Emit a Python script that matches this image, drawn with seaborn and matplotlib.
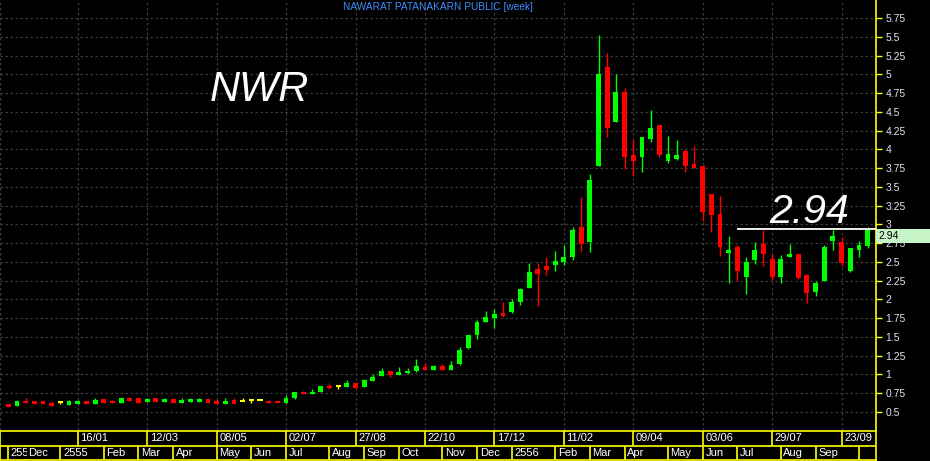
import numpy as np
import pandas as pd
import matplotlib
matplotlib.use("Agg")
import matplotlib.pyplot as plt
import matplotlib.transforms as mtransforms
from matplotlib.patches import Rectangle
import seaborn as sns

# weekly candles (100 weeks, first one = week of 21/11/2554)
open_ = [0.61, 0.58, 0.65, 0.65, 0.64, 0.62, 0.63, 0.59, 0.61, 0.65,
         0.61, 0.67, 0.65, 0.62, 0.69, 0.69, 0.63, 0.69, 0.63, 0.67,
         0.62, 0.63, 0.63, 0.67, 0.65, 0.61, 0.66, 0.65, 0.66, 0.66,
         0.65, 0.65, 0.62, 0.69, 0.77, 0.74, 0.77, 0.85, 0.85, 0.83,
         0.89, 0.83, 0.91, 0.98, 1.04, 0.99, 1.02, 1.04, 1.10, 1.06,
         1.11, 1.06, 1.14, 1.35, 1.53, 1.70, 1.75, 1.82, 1.83, 1.97,
         2.15, 2.41, 2.45, 2.46, 2.50, 2.57, 2.97, 2.77, 3.78, 5.10,
         4.36, 4.76, 3.93, 3.90, 4.14, 4.32, 3.85, 3.87, 3.98, 3.80,
         3.78, 3.41, 3.14, 2.62, 2.70, 2.30, 2.53, 2.74, 2.54, 2.30,
         2.56, 2.60, 2.33, 2.10, 2.25, 2.78, 2.76, 2.38, 2.66, 2.71]
high = [0.61, 0.66, 0.68, 0.65, 0.65, 0.65, 0.63, 0.66, 0.66, 0.65,
        0.69, 0.67, 0.66, 0.69, 0.70, 0.69, 0.69, 0.69, 0.69, 0.69,
        0.69, 0.69, 0.69, 0.69, 0.67, 0.69, 0.69, 0.69, 0.66, 0.66,
        0.66, 0.65, 0.73, 0.77, 0.78, 0.81, 0.85, 0.88, 0.85, 0.93,
        0.89, 0.94, 1.00, 1.08, 1.04, 1.10, 1.09, 1.21, 1.15, 1.13,
        1.14, 1.18, 1.37, 1.53, 1.73, 1.85, 1.87, 1.97, 2.00, 2.15,
        2.49, 2.49, 2.57, 2.65, 2.73, 2.97, 3.37, 3.67, 5.52, 5.28,
        5.00, 4.82, 4.12, 4.16, 4.52, 4.32, 4.18, 4.12, 4.00, 4.04,
        3.78, 3.41, 3.38, 2.85, 2.73, 2.57, 2.77, 2.93, 2.60, 2.59,
        2.74, 2.60, 2.34, 2.25, 2.72, 2.93, 2.83, 2.68, 2.78, 2.97]
low = [0.57, 0.58, 0.62, 0.61, 0.60, 0.58, 0.61, 0.59, 0.61, 0.61,
       0.61, 0.62, 0.62, 0.62, 0.65, 0.62, 0.63, 0.63, 0.63, 0.62,
       0.62, 0.63, 0.63, 0.62, 0.61, 0.61, 0.61, 0.65, 0.62, 0.66,
       0.62, 0.62, 0.62, 0.67, 0.74, 0.74, 0.77, 0.81, 0.81, 0.83,
       0.81, 0.83, 0.91, 0.98, 0.97, 0.99, 1.00, 1.03, 1.06, 1.06,
       1.06, 1.06, 1.13, 1.34, 1.47, 1.70, 1.62, 1.77, 1.82, 1.93,
       2.15, 1.91, 2.33, 2.38, 2.46, 2.53, 2.63, 2.63, 3.78, 4.16,
       4.36, 3.74, 3.65, 3.70, 4.10, 3.90, 3.82, 3.86, 3.70, 3.75,
       3.05, 2.90, 2.58, 2.22, 2.25, 2.07, 2.47, 2.45, 2.26, 2.22,
       2.56, 2.27, 1.95, 2.05, 2.25, 2.66, 2.45, 2.37, 2.57, 2.69]
close = [0.57, 0.65, 0.62, 0.61, 0.60, 0.58, 0.63, 0.65, 0.65, 0.61,
         0.66, 0.62, 0.62, 0.69, 0.65, 0.62, 0.67, 0.63, 0.67, 0.62,
         0.66, 0.67, 0.67, 0.62, 0.61, 0.65, 0.61, 0.65, 0.66, 0.66,
         0.62, 0.62, 0.69, 0.77, 0.74, 0.77, 0.85, 0.82, 0.85, 0.88,
         0.82, 0.93, 0.97, 1.05, 0.99, 1.03, 1.04, 1.11, 1.06, 1.11,
         1.06, 1.13, 1.33, 1.53, 1.70, 1.77, 1.81, 1.78, 1.97, 2.14,
         2.37, 2.34, 2.39, 2.51, 2.57, 2.92, 2.74, 3.59, 5.00, 4.28,
         4.76, 3.90, 3.85, 4.16, 4.28, 3.92, 3.94, 3.93, 3.78, 3.75,
         3.17, 3.13, 2.70, 2.66, 2.38, 2.50, 2.66, 2.61, 2.30, 2.54,
         2.60, 2.29, 2.09, 2.22, 2.70, 2.85, 2.48, 2.68, 2.73, 2.94]

# date strip labels
top_labels = ["16/01", "12/03", "08/05", "02/07", "27/08", "22/10",
              "17/12", "11/02", "09/04", "03/06", "29/07", "23/09"]
top_label_weeks = [8, 16, 24, 32, 40, 48, 56, 64, 72, 80, 88, 96]
month_labels = ["2554", "Dec", "2555", "Feb", "Mar", "Apr", "May", "Jun",
                "Jul", "Aug", "Sep", "Oct", "Nov", "Dec", "2556", "Feb",
                "Mar", "Apr", "May", "Jun", "Jul", "Aug", "Sep", ""]
month_start_weeks = [0, 2, 6, 11, 15, 19, 24, 28, 32, 37, 41, 45, 50, 54,
                     58, 63, 67, 71, 76, 80, 84, 89, 93, 98]
price_ticks = [0.5, 0.75, 1, 1.25, 1.5, 1.75, 2, 2.25, 2.5, 2.75, 3,
               3.25, 3.5, 3.75, 4, 4.25, 4.5, 4.75, 5, 5.25, 5.5, 5.75]

df = pd.DataFrame({"week": np.arange(len(close)), "open": open_,
                   "high": high, "low": low, "close": close})
df["colour"] = np.where(df["close"] > df["open"], "#00ff00",
                        np.where(df["close"] < df["open"], "#ff0000", "#ffff00"))
df["bottom"] = df[["open", "close"]].min(axis=1)
df["body"] = (df["close"] - df["open"]).abs()

sns.set_theme(style="dark", rc={"axes.facecolor": "black",
                                "figure.facecolor": "black"})
plt.rcParams["font.family"] = ["Liberation Sans", "DejaVu Sans"]

W, H = 930, 461
fig = plt.figure(figsize=(W / 100, H / 100), dpi=100, facecolor="black")
ax = fig.add_axes([0, 31 / H, 875.7 / W, 430 / H])
ax.set_facecolor("black")

xmin, xmax = -0.956, 99.93
ax.set_xlim(xmin, xmax)
ax.set_ylim(0.260, 5.99)

grid = "#3a3a3a"
for wk in top_label_weeks:
    ax.axvline(wk, color=grid, lw=0.9, ls=(0, (2, 2)), zorder=0)
for p in price_ticks:
    ax.axhline(p, color=grid, lw=0.9, ls=(0, (2, 2)), zorder=0)
ax.axvline(xmin + 0.05, color=grid, lw=0.9, ls=(0, (2, 2)), zorder=0)

# wicks and bodies
ax.vlines(df["week"], df["low"], df["high"], colors=df["colour"], lw=1, zorder=2)
real = df[df["body"] > 0]
ax.bar(real["week"], real["body"], bottom=real["bottom"], width=0.56,
       color=real["colour"], linewidth=0, zorder=3)
doji = df[df["body"] == 0]
ax.hlines(doji["close"], doji["week"] - 0.3, doji["week"] + 0.3,
          colors=doji["colour"], lw=1.5, zorder=3)

# right price axis
ax.yaxis.tick_right()
ax.set_yticks(price_ticks)
ax.set_yticklabels([f"{p:g}" for p in price_ticks])
ax.tick_params(axis="y", colors="#ffff00", length=4, width=1, pad=3,
               labelcolor="#e4e4f0", labelsize=7.5, direction="out")
ax.set_xticks([])
for side in ["top", "left", "bottom"]:
    ax.spines[side].set_visible(False)
ax.spines["right"].set_color("#ffff00")
ax.spines["right"].set_linewidth(1.2)
ax.grid(False)

# last price marker
last = df["close"].iloc[-1]
ax.hlines(last, 84, xmax, colors="white", lw=1.3, zorder=4)
blend = mtransforms.blended_transform_factory(ax.transAxes, ax.transData)
ax.add_patch(Rectangle((1.0, last - 0.19), 0.063, 0.19, transform=blend,
                       facecolor="#c8f5c8", edgecolor="none", clip_on=False, zorder=5))
ax.text(1.003, last - 0.095, f"{last:.2f}", transform=blend, ha="left",
        va="center", fontsize=7.5, color="black", zorder=6)

ax.text(92.2, 3.014, f"{last:.2f}", ha="center", va="baseline",
        fontsize=29.5, fontstyle="italic", color="white")
ax.text(28.94, 4.648, "NWR", ha="center", va="baseline",
        fontsize=30, fontstyle="italic", color="white")

fig.text(437.5 / W, 1 - 7.5 / H, "NAWARAT PATANAKARN PUBLIC [week]",
         ha="center", va="center", fontsize=7.3, color="#3d8eff")

# date strip at the bottom
ax2 = fig.add_axes([0, 1 / H, 875.7 / W, 29 / H])
ax2.set_facecolor("black")
ax2.set_xlim(xmin, xmax)
ax2.set_ylim(0, 2)
ax2.set_xticks([])
ax2.set_yticks([])
ax2.grid(False)
for side in ax2.spines:
    ax2.spines[side].set_color("#ffff00")
    ax2.spines[side].set_linewidth(1.2)
ax2.axhline(1, color="#ffff00", lw=1.2)
ax2.vlines(top_label_weeks, 1, 2, colors="#ffff00", lw=1.2, zorder=1)
ax2.vlines(month_start_weeks, 0, 1, colors="#ffff00", lw=1.2, zorder=1)
for wk, lab in zip(top_label_weeks, top_labels):
    ax2.text(wk + 0.3, 1.5, lab, ha="left", va="center", fontsize=8, color="white")
for wk, lab in zip(month_start_weeks, month_labels):
    if lab:
        ax2.text(wk + 0.3, 0.48, lab, ha="left", va="center", fontsize=8,
                 color="white", zorder=3,
                 bbox=dict(facecolor="black", edgecolor="none", pad=0.8))

fig.savefig("out.png", dpi=100, facecolor="black")
